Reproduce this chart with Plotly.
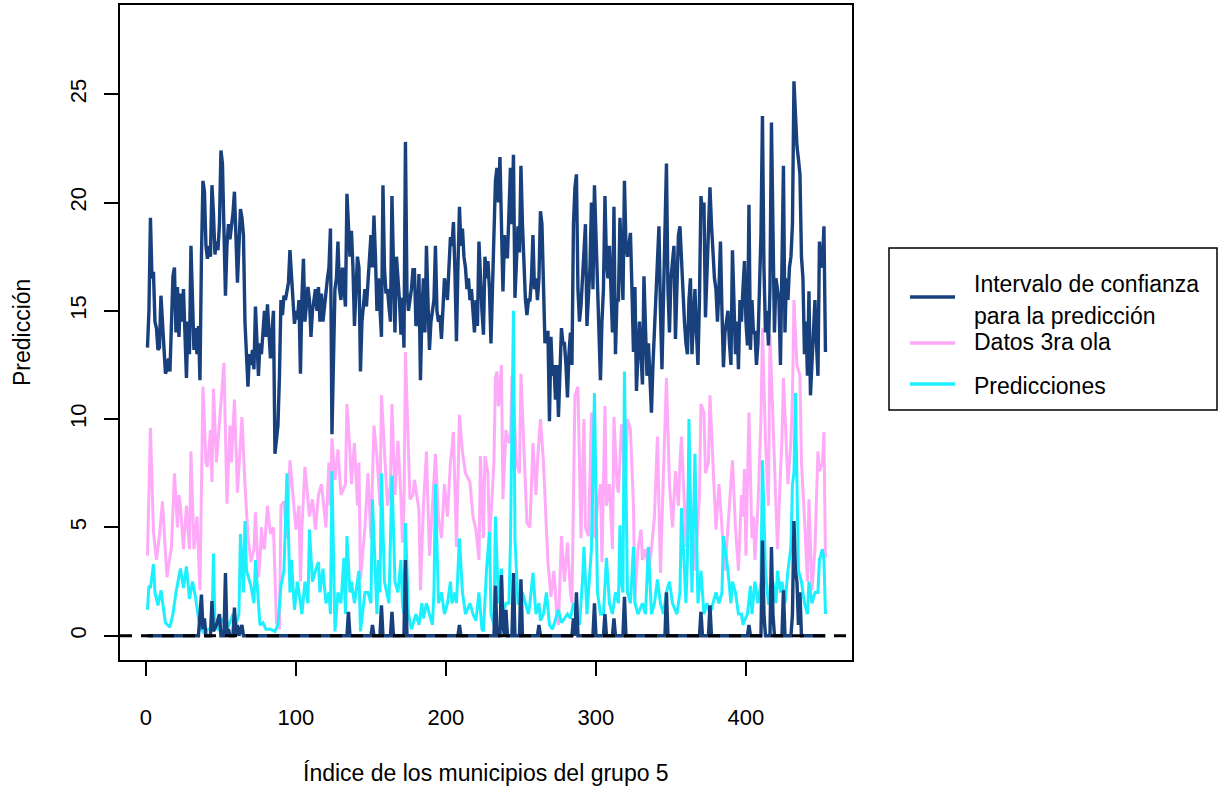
import plotly.graph_objects as go

# ---------------- data ----------------
upper_y = [13.3, 15.0, 19.3, 16.5, 16.8, 14.5, 14.2, 13.2, 13.3, 15.7, 14.5, 13.0, 12.1, 12.3, 12.8, 12.2,
           14.0, 16.6, 17.0, 14.0, 16.1, 13.8, 15.8, 14.5, 16.0, 13.6, 11.9, 14.5, 13.0, 18.0, 15.0, 13.2,
           14.2, 13.0, 14.3, 11.8, 17.5, 21.0, 20.5, 18.0, 17.4, 18.0, 17.5, 20.8, 19.5, 17.6, 18.2, 17.8,
           19.0, 22.4, 21.8, 18.5, 15.7, 18.0, 19.0, 18.3, 18.8, 19.5, 20.5, 18.5, 16.3, 18.0, 19.7, 19.3,
           18.5, 14.5, 13.2, 11.5, 13.0, 12.5, 13.2, 12.3, 15.2, 13.5, 12.0, 13.5, 13.0, 14.0, 15.0, 13.8,
           15.3, 14.0, 12.8, 14.0, 15.0, 8.4, 9.0, 9.7, 12.0, 15.5, 14.8, 15.7, 15.5, 16.0, 16.3, 17.8,
           16.5, 15.5, 14.4, 15.0, 14.6, 15.5, 12.1, 15.7, 17.4, 14.5, 15.2, 16.1, 15.5, 13.8, 15.0, 15.6,
           16.0, 15.0, 16.1, 14.5, 15.8, 14.5, 15.3, 15.8, 16.5, 17.0, 18.8, 9.3, 13.0, 16.0, 16.5, 18.2,
           16.0, 15.5, 17.0, 16.0, 15.2, 20.4, 18.5, 17.5, 18.7, 17.0, 14.3, 16.0, 17.5, 17.0, 12.2, 14.5,
           15.5, 16.0, 15.2, 16.3, 17.0, 18.5, 17.0, 19.4, 17.5, 15.0, 16.5, 15.0, 13.8, 20.8, 17.0, 15.8,
           16.0, 15.2, 14.5, 20.3, 17.0, 14.0, 17.5, 16.5, 15.5, 13.9, 15.6, 13.3, 22.8, 15.9, 15.0, 15.5,
           16.0, 16.9, 16.9, 14.3, 14.5, 16.7, 11.8, 15.0, 16.5, 14.0, 18.0, 15.5, 13.2, 14.5, 15.0, 15.5,
           18.0, 15.0, 14.5, 14.8, 13.7, 15.0, 16.5, 16.0, 15.5, 17.0, 18.4, 18.0, 19.1, 16.8, 13.6, 17.0,
           19.8, 18.0, 18.8, 17.5, 17.0, 16.0, 16.5, 15.5, 16.0, 15.0, 14.0, 15.5, 14.3, 18.2, 16.0, 15.0,
           13.9, 17.5, 16.5, 17.3, 16.0, 13.5, 16.0, 19.0, 21.0, 21.6, 20.0, 22.1, 19.0, 15.9, 18.5, 17.5,
           17.5, 20.3, 21.6, 19.0, 22.2, 15.6, 17.5, 18.9, 17.7, 21.7, 19.0, 16.8, 15.5, 14.8, 15.5, 15.5,
           16.5, 18.5, 16.0, 16.5, 15.5, 16.5, 19.6, 19.0, 16.0, 13.5, 14.0, 14.0, 9.9, 13.8, 12.0, 12.5,
           10.9, 12.5, 10.1, 12.0, 14.2, 13.5, 13.5, 12.5, 11.0, 13.0, 14.0, 12.5, 19.0, 20.7, 21.3, 16.0,
           14.5, 15.2, 16.5, 17.5, 19.0, 14.3, 15.5, 17.0, 20.0, 16.0, 20.8, 18.5, 17.5, 15.0, 11.8, 14.5,
           16.0, 20.3, 17.3, 16.5, 18.0, 16.0, 14.0, 19.8, 13.0, 15.5, 15.5, 19.3, 17.5, 15.5, 21.0, 18.0,
           17.5, 18.0, 18.6, 16.0, 13.1, 16.1, 11.3, 13.0, 14.5, 13.0, 11.6, 16.6, 13.5, 12.0, 13.5, 12.0,
           10.3, 12.5, 14.0, 16.0, 17.5, 18.9, 15.0, 12.3, 15.5, 18.5, 21.8, 16.0, 14.0, 16.5, 17.5, 18.0,
           13.7, 16.5, 18.5, 18.9, 17.5, 15.5, 14.5, 13.5, 13.0, 15.5, 16.5, 13.0, 14.5, 16.0, 14.0, 12.5,
           15.5, 20.3, 19.5, 20.0, 14.7, 16.5, 18.5, 20.7, 19.0, 17.5, 16.5, 16.0, 14.5, 16.0, 18.2, 15.0,
           12.4, 14.0, 14.5, 15.0, 13.5, 12.5, 17.8, 15.0, 13.0, 14.5, 12.3, 15.5, 14.5, 16.0, 17.3, 14.5,
           13.4, 19.9, 13.2, 15.5, 14.0, 14.0, 12.5, 13.5, 15.5, 18.5, 24.0, 17.0, 14.0, 15.0, 13.4, 16.0,
           23.7, 18.0, 14.0, 16.5, 16.0, 15.5, 12.5, 18.7, 21.7, 14.0, 16.5, 15.5, 17.0, 17.5, 19.0, 25.6,
           24.0, 22.6, 22.0, 21.3, 17.5, 16.5, 13.0, 14.5, 12.0, 15.9, 11.1, 12.5, 14.0, 15.5, 13.5, 12.0,
           18.2, 17.0, 17.2, 18.9, 13.1]
upper_x = list(range(1, len(upper_y) + 1))

datos_x = [1, 3, 4, 5, 7, 9, 11, 13, 14, 17, 19, 21, 22, 23, 25, 27, 29, 30, 32, 34, 36, 38, 40, 41, 43, 44,
           45, 47, 48, 51, 52, 54, 56, 57, 59, 61, 64, 66, 68, 70, 72, 73, 75, 76, 77, 78, 79, 81, 83, 85,
           87, 89, 90, 92, 94, 96, 98, 100, 102, 103, 104, 106, 109, 111, 113, 115, 117, 120, 122, 123,
           124, 126, 128, 130, 133, 134, 136, 137, 139, 141, 142, 143, 146, 148, 150, 152, 154, 156, 157,
           159, 161, 163, 164, 166, 168, 170, 171, 172, 173, 176, 178, 179, 182, 183, 185, 187, 189, 191,
           192, 193, 195, 197, 199, 201, 203, 204, 205, 207, 208, 209, 211, 213, 216, 218, 220, 222, 223,
           225, 226, 228, 229, 232, 233, 234, 235, 236, 237, 238, 240, 242, 243, 244, 245, 247, 249, 250,
           252, 254, 256, 258, 260, 261, 263, 265, 267, 268, 270, 272, 274, 275, 277, 279, 281, 283, 284,
           286, 288, 290, 292, 293, 295, 297, 298, 299, 301, 303, 304, 306, 307, 309, 311, 312, 314, 315,
           317, 318, 319, 321, 323, 325, 326, 328, 330, 331, 333, 335, 337, 339, 341, 342, 343, 345, 347,
           349, 351, 353, 355, 356, 357, 359, 360, 362, 364, 366, 367, 369, 370, 372, 373, 375, 376, 378,
           380, 382, 384, 386, 387, 389, 391, 393, 395, 397, 398, 399, 400, 402, 404, 405, 406, 408, 410,
           411, 413, 415, 416, 417, 419, 421, 423, 424, 425, 428, 430, 431, 432, 434, 436, 437, 439, 441,
           442, 444, 446, 448, 449, 451, 452, 453]
datos_y = [3.7, 9.6, 7.2, 4.8, 3.5, 4.6, 6.2, 3.7, 2.7, 4.1, 7.5, 5.0, 6.5, 6.0, 4.0, 6.0, 4.0, 8.5, 4.0, 5.5,
           2.1, 11.5, 8.0, 7.8, 9.5, 7.1, 11.4, 8.0, 9.0, 11.9, 12.6, 6.1, 9.7, 8.0, 10.9, 6.6, 10.1, 7.0,
           4.6, 3.4, 4.0, 5.7, 2.7, 3.5, 5.0, 4.1, 4.0, 6.0, 4.7, 5.0, 0.6, 0.3, 6.0, 6.2, 4.5, 8.1, 6.5,
           4.9, 6.0, 2.5, 5.0, 7.8, 5.5, 6.3, 4.9, 6.5, 7.0, 5.0, 8.0, 6.0, 9.1, 7.2, 8.6, 6.5, 7.0, 10.7,
           8.5, 7.0, 8.9, 6.0, 8.0, 2.6, 5.0, 7.5, 4.5, 9.7, 8.3, 6.0, 11.1, 8.5, 6.0, 7.0, 10.7, 6.5, 9.0,
           6.4, 4.3, 6.0, 13.1, 6.3, 6.5, 7.2, 5.8, 2.1, 6.0, 8.5, 3.7, 6.0, 7.0, 8.4, 5.5, 4.5, 7.0, 5.5,
           8.0, 8.8, 9.4, 4.1, 7.0, 10.2, 8.5, 7.5, 7.1, 5.5, 4.9, 3.5, 8.3, 4.5, 8.3, 7.5, 4.3, 8.0, 11.9,
           12.2, 10.6, 11.5, 12.5, 6.3, 9.5, 8.9, 9.0, 12.0, 11.0, 8.0, 7.5, 12.1, 8.3, 5.2, 5.0, 8.9, 6.5,
           8.0, 10.0, 8.0, 4.9, 3.4, 1.8, 3.0, 0.9, 0.5, 4.6, 2.5, 4.3, 2.0, 1.5, 11.1, 11.5, 4.5, 10.0,
           5.0, 4.6, 10.3, 6.0, 4.5, 6.0, 7.0, 3.4, 10.6, 6.0, 7.0, 4.0, 10.1, 7.0, 6.6, 9.7, 9.7, 6.0,
           10.0, 9.5, 6.0, 1.8, 4.0, 4.9, 3.5, 4.0, 3.0, 4.0, 5.5, 9.2, 5.0, 2.9, 7.5, 11.9, 7.0, 5.0, 7.6,
           6.0, 8.0, 9.2, 6.0, 4.1, 7.5, 5.0, 3.0, 4.0, 6.5, 10.7, 10.3, 7.5, 8.0, 11.1, 8.0, 4.9, 7.0,
           5.0, 3.0, 4.0, 6.0, 8.1, 5.0, 3.0, 6.5, 5.5, 7.7, 3.7, 10.3, 4.5, 5.5, 3.5, 6.0, 10.0, 14.2, 9.0,
           6.0, 13.9, 12.0, 8.0, 4.0, 7.5, 9.0, 11.9, 7.0, 9.0, 11.0, 15.5, 12.5, 12.0, 8.0, 5.5, 2.5, 6.3,
           2.1, 4.0, 8.5, 7.6, 8.0, 9.4, 3.6]

pred_x = [1, 2, 3, 5, 6, 8, 10, 11, 13, 16, 18, 20, 23, 25, 27, 29, 31, 33, 35, 37, 39, 41, 44, 45, 46, 48,
          51, 54, 56, 58, 60, 62, 63, 65, 66, 67, 70, 72, 73, 76, 78, 80, 83, 86, 88, 90, 92, 94, 96, 97,
          99, 101, 104, 106, 108, 109, 111, 113, 115, 116, 118, 120, 122, 123, 124, 126, 128, 130, 132,
          133, 134, 136, 137, 139, 142, 143, 146, 148, 150, 151, 154, 155, 156, 157, 159, 162, 164, 166,
          168, 170, 171, 172, 173, 175, 177, 180, 182, 184, 185, 187, 189, 191, 192, 193, 195, 197, 199,
          201, 203, 204, 206, 207, 209, 211, 213, 216, 218, 220, 222, 224, 225, 227, 229, 230, 232, 233,
          235, 236, 237, 238, 240, 242, 243, 245, 246, 248, 250, 251, 253, 255, 256, 258, 260, 262, 263,
          265, 267, 269, 271, 273, 275, 277, 279, 281, 283, 285, 287, 289, 291, 292, 294, 296, 297, 299,
          301, 303, 305, 307, 309, 311, 313, 315, 316, 317, 318, 319, 321, 323, 325, 326, 328, 331, 333,
          335, 337, 339, 341, 343, 345, 347, 349, 351, 354, 356, 357, 359, 360, 361, 362, 364, 366, 368,
          370, 372, 374, 376, 378, 380, 382, 384, 385, 388, 390, 391, 393, 395, 397, 398, 399, 401, 403,
          404, 406, 408, 410, 411, 413, 415, 417, 418, 420, 421, 423, 424, 426, 428, 430, 431, 432, 433,
          435, 437, 439, 441, 442, 444, 446, 448, 449, 451, 452, 453]
pred_y = [1.2, 2.3, 2.2, 3.3, 2.0, 1.4, 2.1, 1.6, 0.6, 0.4, 1.0, 2.0, 3.1, 2.2, 3.2, 1.7, 2.5, 1.8, 0.8, 0.3,
          0.1, 0.3, 0.3, 3.8, 0.4, 0.3, 0.8, 0.3, 0.6, 1.0, 0.5, 1.0, 4.7, 2.0, 5.3, 3.0, 2.3, 1.5, 3.5,
          0.5, 0.6, 0.3, 0.3, 0.2, 0.5, 2.3, 3.0, 7.5, 2.0, 3.5, 1.2, 2.5, 1.0, 2.5, 1.5, 4.9, 2.5, 3.0,
          3.4, 2.0, 3.1, 1.5, 2.0, 1.0, 7.6, 0.2, 2.0, 1.5, 3.6, 1.0, 4.6, 2.0, 2.5, 1.5, 3.0, 0.2, 2.0,
          2.0, 1.5, 6.3, 1.0, 3.5, 2.0, 7.5, 2.5, 1.5, 7.4, 2.5, 2.0, 3.5, 1.5, 1.0, 5.2, 1.0, 0.3, 1.0,
          0.5, 1.5, 0.8, 1.5, 1.0, 0.5, 2.0, 7.0, 1.5, 2.0, 1.0, 1.5, 2.5, 1.5, 2.0, 1.5, 4.5, 2.0, 1.0,
          1.5, 1.0, 0.7, 2.0, 0.3, 0.2, 3.0, 4.8, 1.0, 0.5, 5.5, 1.5, 2.0, 3.1, 1.0, 1.5, 1.5, 4.3, 15.0,
          4.5, 1.5, 1.5, 2.0, 1.5, 1.0, 1.5, 2.9, 1.0, 1.5, 0.7, 1.0, 2.0, 0.5, 0.3, 0.8, 1.2, 0.6, 0.8,
          1.0, 0.8, 1.5, 1.0, 0.5, 2.5, 4.1, 1.0, 3.0, 4.0, 11.2, 2.0, 1.0, 1.0, 3.6, 1.5, 1.0, 2.0, 1.5,
          5.1, 2.5, 2.0, 12.2, 2.0, 1.5, 4.1, 1.5, 1.0, 1.5, 1.0, 4.1, 1.0, 1.5, 2.6, 1.5, 1.0, 2.0, 2.5,
          1.5, 1.0, 2.0, 5.9, 3.0, 1.5, 3.5, 10.0, 2.0, 8.4, 1.5, 3.0, 1.0, 1.5, 1.0, 1.5, 2.0, 1.5, 2.0,
          4.6, 3.0, 1.5, 2.5, 2.0, 1.0, 1.0, 0.5, 0.7, 1.0, 2.3, 1.0, 2.5, 1.5, 2.5, 8.1, 3.0, 1.5, 1.5,
          2.5, 1.5, 3.0, 2.0, 2.5, 1.5, 3.0, 4.1, 7.0, 7.5, 11.2, 3.0, 2.5, 1.5, 1.0, 2.5, 1.5, 2.0, 2.0,
          3.5, 4.0, 3.5, 1.0]

lower_x = [1, 35, 37, 38, 39, 40, 43, 44, 45, 47, 49, 50, 52, 53, 54, 55, 56, 58, 59, 60, 61, 62, 64,
           65, 134, 135, 136, 150, 151, 152, 156, 157, 158, 163, 164, 165, 172, 173, 174, 208, 209, 210,
           232, 233, 234, 236, 237, 238, 239, 240, 241, 244, 245, 246, 249, 250, 251, 261, 262, 263, 284,
           285, 286, 287, 288, 298, 299, 300, 305, 306, 307, 311, 312, 313, 318, 319, 320, 346, 347, 348,
           369, 370, 371, 375, 376, 377, 401, 402, 403, 410, 411, 412, 413, 416, 417, 418, 419, 424, 425,
           426, 430, 431, 432, 433, 434, 435, 436, 437, 453]
lower_y = [0, 0, 1.9, 0.3, 0.8, 0, 0, 1.6, 0.2, 0.5, 1.0, 0, 0, 2.9, 0, 0.3, 0, 0, 1.3, 0, 0.5, 0, 0.5,
           0, 0, 1.1, 0, 0, 0.5, 0, 0, 1.4, 0, 0, 1.1, 0, 0, 3.5, 0, 0, 0.5, 0, 0, 2.3, 0, 0, 2.8, 0.5, 0,
           1.2, 0, 0, 2.9, 0, 0, 2.6, 0, 0, 0.5, 0, 0, 0.8, 0, 2.0, 0, 0, 1.5, 0, 0, 1.0, 0, 0, 0.8, 0, 0,
           1.8, 0, 0, 2.0, 0, 0, 1.1, 0, 0, 1.4, 0, 0, 0.5, 0, 0, 4.4, 1.0, 0, 0, 4.1, 1.0, 0, 0, 2.1, 0,
           0, 1.0, 5.3, 3.0, 2.5, 0.5, 2.0, 0, 0]

x_ticks = [0, 100, 200, 300, 400]
y_ticks = [0, 5, 10, 15, 20, 25]
legend_labels = ["Intervalo de confianza", "para la predicción", "Datos 3ra ola", "Predicciones"]
x_title = "Índice de los municipios del grupo 5"
y_title = "Predicción"

# ---------------- style ----------------
NAVY = "#17407D"
PINK = "#FFAAF8"
CYAN = "#1CF0FF"
FONT = "Liberation Sans, Arial, Helvetica, sans-serif"
TXT = 23
W, H = 1228, 793
PL, PR, PT, PB = 120, 852, 5, 660   # plot box in pixels


def px(xp):
    return (xp - PL) / (PR - PL)


def py(yp):
    return (PB - yp) / (PB - PT)


fig = go.Figure()
fig.add_trace(go.Scatter(x=datos_x, y=datos_y, mode="lines", line=dict(color=PINK, width=3),
                         showlegend=False, hoverinfo="skip"))
fig.add_trace(go.Scatter(x=pred_x, y=pred_y, mode="lines", line=dict(color=CYAN, width=3),
                         showlegend=False, hoverinfo="skip"))
fig.add_trace(go.Scatter(x=upper_x, y=upper_y, mode="lines", line=dict(color=NAVY, width=3.4),
                         showlegend=False, hoverinfo="skip"))
fig.add_trace(go.Scatter(x=lower_x, y=lower_y, mode="lines", line=dict(color=NAVY, width=3.4),
                         showlegend=False, hoverinfo="skip"))

shapes = []
# abline h = 0 (dashed)
shapes.append(dict(type="line", xref="paper", yref="y", x0=0, x1=1, y0=0, y1=0,
                   line=dict(color="black", width=3, dash="12px,9px"), layer="above"))
# legend box
shapes.append(dict(type="rect", xref="paper", yref="paper", x0=px(889), x1=px(1217), y0=py(410), y1=py(248),
                   line=dict(color="black", width=1.5), fillcolor="white", layer="above"))
for col, ly in [(NAVY, 297), (PINK, 343), (CYAN, 384)]:
    shapes.append(dict(type="line", xref="paper", yref="paper", x0=px(910), x1=px(955), y0=py(ly), y1=py(ly),
                       line=dict(color=col, width=3.4), layer="above"))

annotations = []
for txt, ty in zip(legend_labels, [284, 316, 342, 386]):
    annotations.append(dict(text=txt, xref="paper", yref="paper", x=px(972), y=py(ty), xanchor="left",
                            yanchor="middle", showarrow=False, font=dict(family=FONT, size=TXT, color="black")))
annotations.append(dict(text=x_title, xref="paper", yref="paper", x=px(486), y=py(773), xanchor="center",
                        yanchor="middle", showarrow=False, font=dict(family=FONT, size=TXT, color="black")))
annotations.append(dict(text=y_title, xref="paper", yref="paper", x=px(22), y=py(332), xanchor="center",
                        yanchor="middle", textangle=-90, showarrow=False,
                        font=dict(family=FONT, size=TXT, color="black")))

fig.update_layout(
    width=W, height=H,
    margin=dict(l=PL, r=W - PR, t=PT, b=H - PB, autoexpand=False),
    paper_bgcolor="white", plot_bgcolor="white",
    showlegend=False,
    shapes=shapes, annotations=annotations,
    font=dict(family=FONT, size=22, color="black"),
)
fig.update_xaxes(range=[-17.3, 470.7], tickvals=x_ticks, ticktext=[str(v) for v in x_ticks],
                 showgrid=False, zeroline=False, showline=True, mirror=True, linecolor="black", linewidth=1.5,
                 ticks="outside", ticklen=14, tickwidth=1.5, tickcolor="black", ticklabelstandoff=23,
                 tickfont=dict(family=FONT, size=22, color="black"))
fig.update_yaxes(range=[-1.12, 29.12], tickvals=y_ticks, ticktext=[str(v) for v in y_ticks],
                 showgrid=False, zeroline=False, showline=True, mirror=True, linecolor="black", linewidth=1.5,
                 ticks="outside", ticklen=14, tickwidth=1.5, tickcolor="black", tickangle=-90,
                 ticklabelstandoff=9, tickfont=dict(family=FONT, size=22, color="black"))

fig.write_html("out.html", config={"displayModeBar": False},
               post_script="document.body.style.margin='0';document.body.style.padding='0';")
